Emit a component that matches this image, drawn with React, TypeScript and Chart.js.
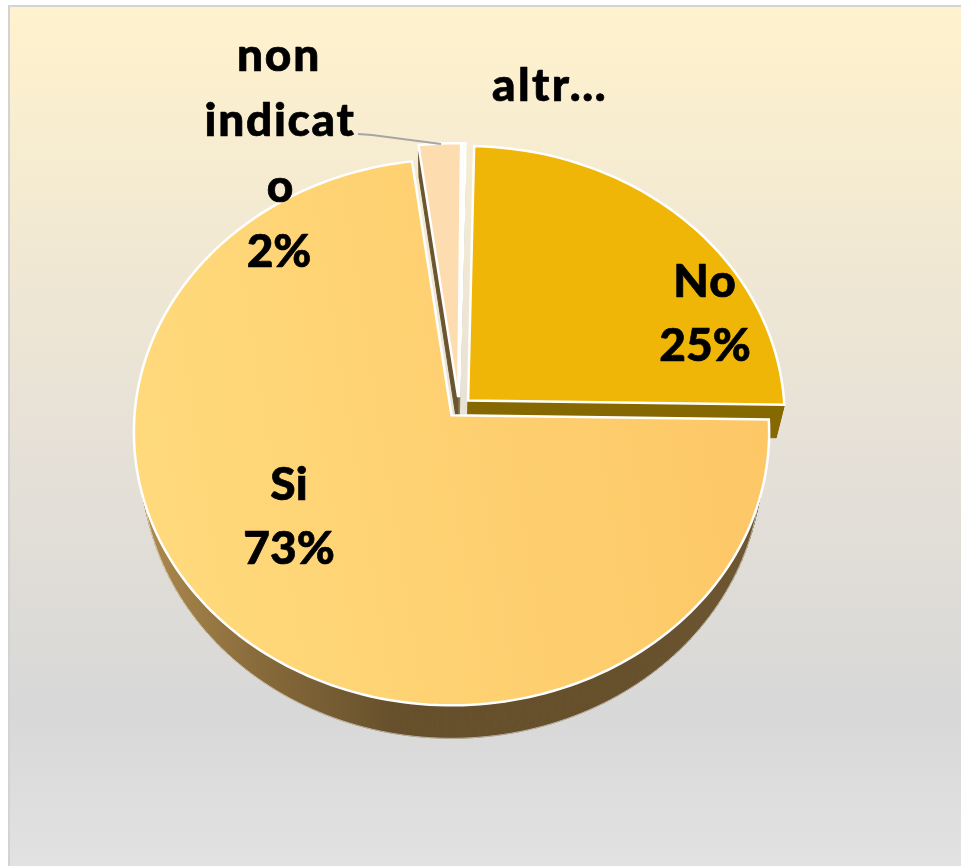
import React, { useEffect, useRef } from "react";
import { Chart, registerables } from "chart.js";

Chart.register(...registerables);

const categories = ["non indicato", "altro", "No", "Si"];
const seriesValues = [2.3, 0.2, 25, 73];
const sliceColors = ["#fddcaf", "#fffaf0", "#f0b607", "#ffd06f"];
const wallColors = ["#6b5530", "#8a7a50", "#866800", "#66502c"];
const percentLabels = ["2%", "", "25%", "73%"];

const F = '900 46px Lato, "Open Sans", sans-serif';

// pie view: homography from the unit disc to the page
const AX = 451, AY = 415, DX = 317, DY = 272, C = -0.0623;
const U0 = 0.0252, V0 = -0.0257;
const project = (u: number, v: number): [number, number] => {
  const w = 1 + C * v;
  return [AX + (DX * u) / w, AY + (DY * v) / w];
};
const drop = (p: [number, number]): [number, number] => [AX + 0.975 * (p[0] - AX), p[1] + 33];

function drawSlice(el: any, ctx: CanvasRenderingContext2D, index: number) {
  const { startAngle, endAngle, outerRadius, options } = el;
  const mid = (startAngle + endAngle) / 2;
  const off = (options.offset || 0) / outerRadius;
  const cu = U0 + off * Math.cos(mid);
  const cv = V0 + off * Math.sin(mid);
  const steps = Math.max(4, Math.ceil((endAngle - startAngle) * 40));
  const rim: [number, number][] = [];
  for (let i = 0; i <= steps; i++) {
    const a = startAngle + ((endAngle - startAngle) * i) / steps;
    rim.push(project(cu + Math.cos(a), cv + Math.sin(a)));
  }
  const apex = project(cu, cv);
  // side wall
  const outline = [apex, ...rim, apex];
  let wallFill: string | CanvasGradient = wallColors[index];
  if (index === 3) {
    const g = ctx.createLinearGradient(140, 0, 770, 0);
    g.addColorStop(0, "#ad8b4e");
    g.addColorStop(0.2, "#86693a");
    g.addColorStop(0.4, "#66502c");
    g.addColorStop(0.75, "#66502c");
    g.addColorStop(1, "#6e5731");
    wallFill = g;
  }
  ctx.save();
  ctx.fillStyle = wallFill;
  ctx.strokeStyle = wallFill;
  ctx.lineWidth = 1;
  for (let i = 0; i < outline.length - 1; i++) {
    const a = outline[i], b = outline[i + 1], c = drop(b), d = drop(a);
    ctx.beginPath();
    ctx.moveTo(a[0], a[1]);
    ctx.lineTo(b[0], b[1]);
    ctx.lineTo(c[0], c[1]);
    ctx.lineTo(d[0], d[1]);
    ctx.closePath();
    ctx.fill();
    ctx.stroke();
  }
  if (index === 3) {
    ctx.strokeStyle = "rgba(255,255,255,0.55)";
    ctx.beginPath();
    rim.forEach((p, i) => {
      const q = drop(p);
      if (i === 0) ctx.moveTo(q[0], q[1]);
      else ctx.lineTo(q[0], q[1]);
    });
    ctx.stroke();
  }
  // top face
  ctx.beginPath();
  ctx.moveTo(apex[0], apex[1]);
  rim.forEach((p) => ctx.lineTo(p[0], p[1]));
  ctx.closePath();
  ctx.fillStyle = options.backgroundColor;
  ctx.fill();
  ctx.strokeStyle = options.borderColor;
  ctx.lineWidth = options.borderWidth;
  ctx.lineJoin = "miter";
  ctx.stroke();
  ctx.restore();
}

const frame = {
  id: "frame",
  beforeDraw(chart: any) {
    const ctx = chart.ctx as CanvasRenderingContext2D;
    ctx.save();
    ctx.fillStyle = "#ffffff";
    ctx.fillRect(0, 0, 961, 866);
    ctx.fillStyle = "#d3d3d3";
    ctx.fillRect(8, 5, 953, 861);
    const g = ctx.createLinearGradient(0, 7, 0, 866);
    g.addColorStop(0, "#fff2cd");
    g.addColorStop(0.47, "#e8e2d7");
    g.addColorStop(0.82, "#d8d8d8");
    g.addColorStop(1, "#e2e2e2");
    ctx.fillStyle = g;
    ctx.fillRect(10, 7, 951, 859);
    ctx.restore();
  },
};

const pie3d = {
  id: "pie3d",
  beforeDatasetsDraw(chart: any) {
    chart.getDatasetMeta(0).data.forEach((el: any, i: number) => {
      el.draw = (ctx: CanvasRenderingContext2D) => drawSlice(el, ctx, i);
    });
  },
  afterDatasetsDraw(chart: any) {
    const ctx = chart.ctx as CanvasRenderingContext2D;
    ctx.save();
    ctx.strokeStyle = "#a6a6a6";
    ctx.lineWidth = 2;
    ctx.beginPath();
    ctx.moveTo(358, 134);
    ctx.lineTo(372, 135);
    ctx.lineTo(441, 144);
    ctx.stroke();
    ctx.fillStyle = "#000";
    ctx.strokeStyle = "#000";
    ctx.lineWidth = 0.7;
    ctx.lineJoin = "round";
    ctx.font = F;
    ctx.textAlign = "center";
    ctx.textBaseline = "middle";
    const [nonLabel, altroLabel, noLabel, siLabel] = categories;
    const t = (s: string, x: number, y: number, spacing = 0) => {
      (ctx as any).letterSpacing = spacing + "px";
      ctx.fillText(s, x, y);
      ctx.strokeText(s, x, y);
    };
    t(nonLabel.split(" ")[0], 279, 56, 1.7);
    t(nonLabel.split(" ")[1].slice(0, 7), 280, 121, 1.7);
    t(nonLabel.split(" ")[1].slice(7), 280, 187);
    t(percentLabels[0], 279, 252);
    t(altroLabel.slice(0, 4) + "…", 550, 86, 2.4);
    t(noLabel, 705, 282, 1);
    t(percentLabels[2], 705, 346);
    t(siLabel, 289, 485);
    t(percentLabels[3], 289, 549);
    ctx.restore();
  },
};

export default function App() {
  const ref = useRef<HTMLCanvasElement>(null);
  useEffect(() => {
    const canvas = ref.current!;
    const c2d = canvas.getContext("2d")!;
    const siFill = c2d.createLinearGradient(133, 500, 768, 400);
    siFill.addColorStop(0, "#ffda7c");
    siFill.addColorStop(1, "#fdc766");
    const colors: (string | CanvasGradient)[] = [...sliceColors];
    colors[3] = siFill;
    const chart = new Chart(canvas, {
      type: "pie",
      data: {
        labels: categories,
        datasets: [
          {
            data: seriesValues,
            backgroundColor: colors as any,
            borderColor: "#ffffff",
            borderWidth: 2.5,
            offset: [17, 17, 17, 15],
          },
        ],
      },
      options: {
        responsive: false,
        animation: false,
        rotation: 352.4,
        plugins: { legend: { display: false }, tooltip: { enabled: false } },
      },
      plugins: [frame, pie3d],
    } as any);
    return () => chart.destroy();
  }, []);
  return (
    <canvas
      ref={ref}
      width={961}
      height={866}
      style={{ position: "absolute", left: 0, top: 0, display: "block" }}
    />
  );
}
